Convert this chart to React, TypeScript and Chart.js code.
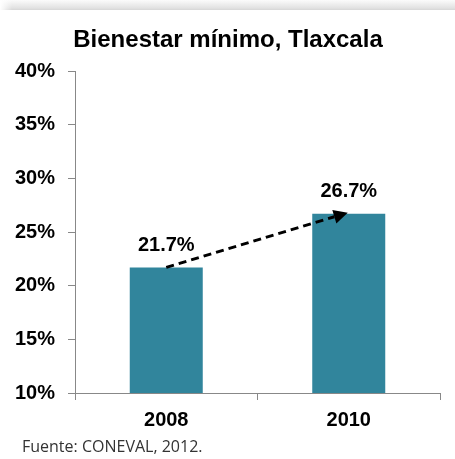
import React, { useEffect, useRef } from 'react';
import { Chart, registerables } from 'chart.js';

Chart.register(...registerables);

const categories = ['2008', '2010'];
const values = [21.7, 26.7];
const yTicks = [10, 15, 20, 25, 30, 35, 40];
const titleText = 'Bienestar mínimo, Tlaxcala';
const sourceText = 'Fuente: CONEVAL, 2012.';

const FONT = '"Liberation Sans", Arial, sans-serif';
const BAR_COLOR = '#31859C';

const decorPlugin = {
  id: 'decor',
  beforeDraw(chart: any) {
    const ctx = chart.ctx;
    ctx.save();
    const g = ctx.createLinearGradient(0, 0, 0, 10);
    g.addColorStop(0, '#fbfbfb');
    g.addColorStop(0.8, '#e2e2e2');
    g.addColorStop(1, '#d6d6d6');
    ctx.fillStyle = g;
    ctx.fillRect(0, 0, chart.width, 10);
    const h = ctx.createLinearGradient(0, 0, 12, 0);
    h.addColorStop(0, 'rgba(255,255,255,1)');
    h.addColorStop(1, 'rgba(255,255,255,0)');
    ctx.fillStyle = h;
    ctx.fillRect(0, 0, 12, 10);
    ctx.restore();
  },
  afterDatasetsDraw(chart: any) {
    const ctx = chart.ctx;
    const meta = chart.getDatasetMeta(0);
    const p0 = meta.data[0];
    const p1 = meta.data[1];
    ctx.save();
    // dashed arrow from top of first bar to top of second bar
    const x0 = p0.x;
    const y0 = p0.y;
    const x1 = p1.x - 1;
    const y1 = p1.y - 1;
    const ang = Math.atan2(y1 - y0, x1 - x0);
    const cos = Math.cos(ang);
    const sin = Math.sin(ang);
    const headLen = 14;
    const hx = x1 - headLen * cos;
    const hy = y1 - headLen * sin;
    ctx.strokeStyle = '#000';
    ctx.fillStyle = '#000';
    ctx.lineWidth = 3;
    ctx.setLineDash([8, 5]);
    ctx.beginPath();
    ctx.moveTo(x0, y0);
    ctx.lineTo(hx, hy);
    ctx.stroke();
    ctx.setLineDash([]);
    const w = 7;
    ctx.beginPath();
    ctx.moveTo(x1, y1);
    ctx.lineTo(hx + w * sin, hy - w * cos);
    ctx.lineTo(hx - w * sin, hy + w * cos);
    ctx.closePath();
    ctx.fill();

    // value labels
    ctx.font = `bold 20px ${FONT}`;
    ctx.textAlign = 'center';
    ctx.textBaseline = 'middle';
    meta.data.forEach((bar: any, i: number) => {
      const v = chart.data.datasets[0].data[i];
      ctx.fillText(`${v.toFixed(1)}%`, bar.x, bar.y - 22);
    });
    ctx.restore();
  },
  afterDraw(chart: any) {
    const ctx = chart.ctx;
    ctx.save();
    ctx.fillStyle = '#000';
    ctx.font = `bold 24px ${FONT}`;
    ctx.textAlign = 'center';
    ctx.textBaseline = 'middle';
    ctx.fillText(titleText, 228, 40);
    ctx.fillStyle = '#333';
    ctx.font = `16px "Open Sans", sans-serif`;
    ctx.textAlign = 'left';
    ctx.fillText(sourceText, 22, 447);
    ctx.restore();
  },
};

export default function App() {
  const ref = useRef<HTMLCanvasElement | null>(null);

  useEffect(() => {
    if (!ref.current) return;
    const chart = new Chart(ref.current, {
      type: 'bar',
      data: {
        labels: categories,
        datasets: [
          {
            data: values,
            backgroundColor: BAR_COLOR,
            borderWidth: 0,
            barPercentage: 0.4,
            categoryPercentage: 1,
          },
        ],
      },
      options: {
        responsive: false,
        animation: false,
        layout: { padding: { left: 0, right: 15, top: 71, bottom: 19 } },
        plugins: {
          legend: { display: false },
          tooltip: { enabled: false },
          title: { display: false },
        },
        scales: {
          x: {
            grid: {
              display: true,
              drawOnChartArea: false,
              drawTicks: true,
              tickLength: 7,
              color: '#888',
              offset: true,
            },
            border: { display: true, color: '#888', width: 1 },
            ticks: {
              color: '#000',
              font: { family: FONT, size: 20, weight: 'bold' },
              padding: 8,
            },
          },
          y: {
            min: yTicks[0],
            max: yTicks[yTicks.length - 1],
            afterFit: (scale: any) => {
              scale.width = 75;
            },
            ticks: {
              stepSize: yTicks[1] - yTicks[0],
              color: '#000',
              font: { family: FONT, size: 20, weight: 'bold' },
              padding: 13,
              callback: (v: any) => `${v}%`,
            },
            grid: {
              display: true,
              drawOnChartArea: false,
              drawTicks: true,
              tickLength: 7,
              color: '#888',
            },
            border: { display: true, color: '#888', width: 1 },
          },
        },
      },
      plugins: [decorPlugin],
    });
    return () => chart.destroy();
  }, []);

  return (
    <div style={{ position: 'absolute', left: 0, top: 0, width: 455, height: 459, background: '#fff' }}>
      <canvas ref={ref} width={455} height={459} />
    </div>
  );
}
